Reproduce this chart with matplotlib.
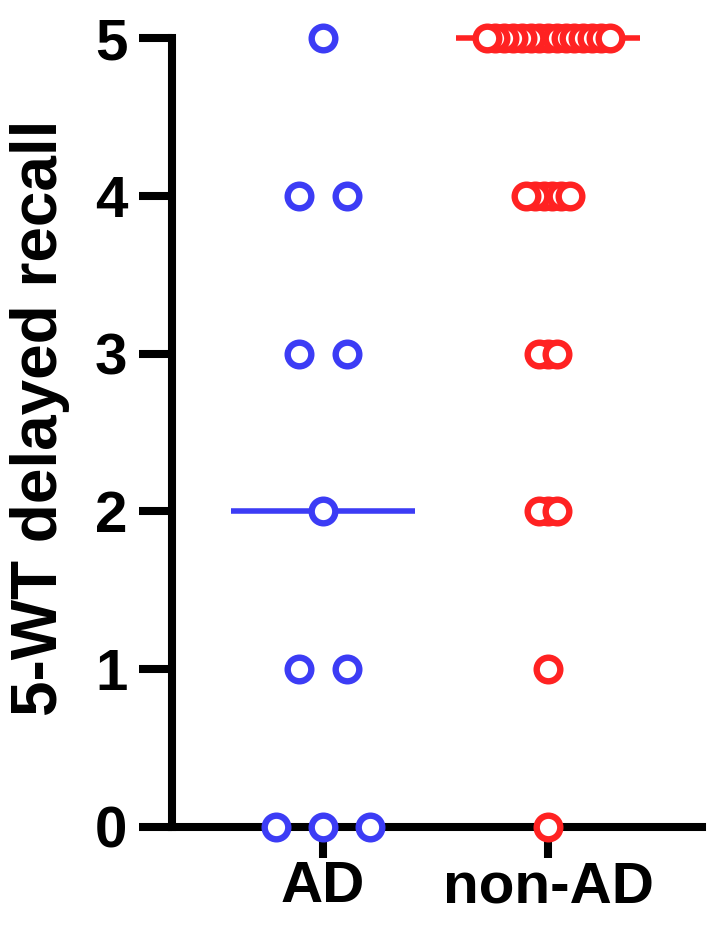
import numpy as np
import matplotlib
matplotlib.use("Agg")
from matplotlib import pyplot as plt

# groups and counts of subjects at each recall score
groups = ["AD", "non-AD"]
scores = [0, 1, 2, 3, 4, 5]
ad_counts = [3, 2, 1, 2, 2, 1]
nonad_counts = [1, 1, 3, 3, 6, 15]
medians = [2, 5]
colors = ["#3c3cf5", "#ff2222"]

plt.rcParams['font.family'] = ['Liberation Sans', 'DejaVu Sans']
plt.rcParams['font.weight'] = 'bold'

fig = plt.figure(figsize=(7.13, 9.34), dpi=100)
ax = fig.add_axes([172/713, 1-827/934, (702-172)/713, (827-38)/934])

# horizontal spacing between dots in a row (layout only)
steps = [0.21, 0.039]
for gi, counts in enumerate([ad_counts, nonad_counts]):
    # median line
    ax.plot([gi - 0.41, gi + 0.41], [medians[gi]]*2, color=colors[gi],
            lw=4, solid_capstyle='butt', zorder=3, clip_on=False)
    xs = []
    ys = []
    for s, n in zip(scores, counts):
        off = (np.arange(n) - (n - 1) / 2) * steps[gi]
        # centre-out drawing order, like a swarm
        off = off[np.argsort(np.abs(off), kind='stable')]
        xs.extend(gi + off)
        ys.extend([s]*n)
    ax.plot(xs, ys, 'o', ms=17, mew=4.6, mec=colors[gi], mfc='white',
            zorder=4, clip_on=False)

ax.set_xlim(-0.671, 1.684)
ax.set_ylim(0, 5)
ax.set_xticks([0, 1])
ax.set_xticklabels(groups)
ax.set_yticks(scores)
for sp in ['top', 'right']:
    ax.spines[sp].set_visible(False)
for sp in ['left', 'bottom']:
    ax.spines[sp].set_linewidth(5.8)
ax.tick_params(axis='y', length=24, width=5.8, pad=8, labelsize=42)
ax.tick_params(axis='x', length=22, width=5.8, pad=2, labelsize=42)

fig.text(40/713, 1-418/934, "5-WT delayed recall", rotation=90,
         ha='center', va='center', fontsize=46, fontweight='bold')

fig.savefig("out.png", dpi=100)
